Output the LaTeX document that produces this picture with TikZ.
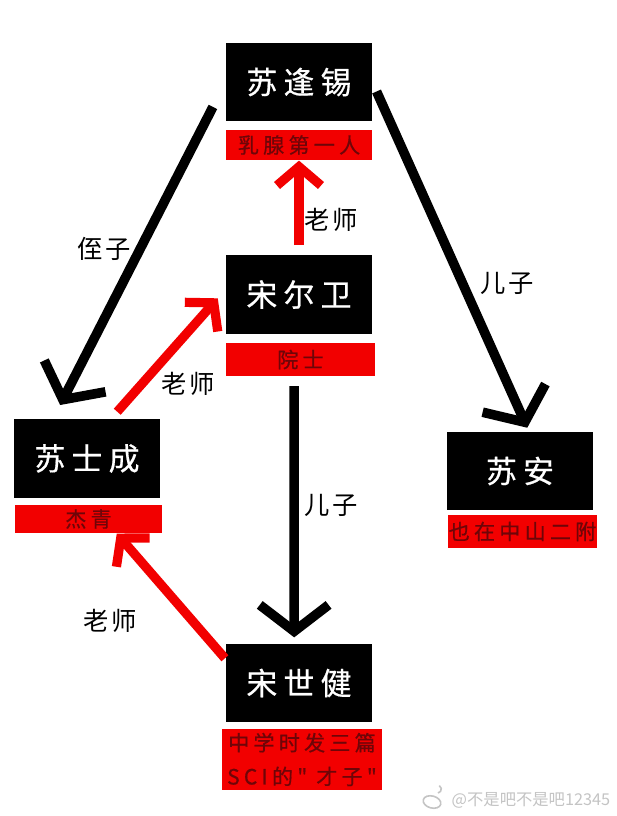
\documentclass[tikz,border=0pt]{standalone}
\usepackage{fontspec}
\usepackage{xcolor}
\newfontfamily\cjk[LetterSpace=20,FakeBold=0.6]{Noto Sans CJK SC}
\newfontfamily\cjklabel[LetterSpace=12]{Noto Sans CJK SC}
\newfontfamily\cjkplain{Noto Sans CJK SC}
\usetikzlibrary{
    arrows.meta
}
\definecolor{boxred}{HTML}{F20000}
\definecolor{textred}{HTML}{6E0508}
\definecolor{markgray}{HTML}{C4C4C4}
\pgfdeclarearrow{
    name=OpenHead,
    setup code={
        \pgfarrowssettipend{0pt}
        \pgfarrowssetlineend{-0.5\pgfarrowlinewidth}
        \pgfarrowssetbackend{-\pgfarrowlength}
        \pgfarrowssavethe\pgfarrowlength
        \pgfarrowssavethe\pgfarrowwidth
        \pgfarrowssavethe\pgfarrowlinewidth
    },
    drawing code={
        \pgfsetbuttcap
        \pgfsetmiterjoin
        \pgfsetlinewidth{\pgfarrowlinewidth}
        \pgfpathmoveto{\pgfpoint{-\pgfarrowlength}{0.5\pgfarrowwidth}}
        \pgfpathlineto{\pgfpoint{0pt}{0pt}}
        \pgfpathlineto{\pgfpoint{-\pgfarrowlength}{-0.5\pgfarrowwidth}}
        \pgfusepathqstroke
    },
    parameters={\the\pgfarrowlength,\the\pgfarrowwidth,\the\pgfarrowlinewidth},
    defaults={length=0.6cm,width=1.6cm,line width=+0pt 1 1}
}

\begin{document}
\begin{tikzpicture}[x=0.025cm,y=-0.025cm,line join=miter]
    \tikzstyle{namebox}=[fill=black, text=white, minimum width=3.65cm, minimum height=1.95cm, inner sep=0pt, font=\cjk\fontsize{22}{24}\selectfont]
    \tikzstyle{titlebox}=[fill=boxred, text=textred, inner sep=0pt, font=\cjk\fontsize{15}{24}\selectfont, align=center]
    \tikzstyle{rel}=[text=black, inner sep=0pt, font=\cjklabel\fontsize{18}{20}\selectfont]
    \tikzstyle{blackline}=[draw=black, line width=0.24cm, -{OpenHead[length=0.66cm, width=1.72cm]}]
    \tikzstyle{redline}=[draw=boxred, line width=0.23cm, -{OpenHead[length=0.47cm, width=1.1cm]}]
    \useasboundingbox (0,0) rectangle (617,816);
    \fill[white] (0,0) rectangle (617,816);
    \node[namebox] (sfx) at (299,82) {\raisebox{-1pt}{苏逢锡}};
    \node[titlebox, minimum width=3.65cm, minimum height=0.75cm] (rx) at (299,145) {乳腺第一人};
    \node[namebox] (sew) at (299,294.5) {\raisebox{-1pt}{宋尔卫}};
    \node[titlebox, minimum width=3.73cm, minimum height=0.82cm] (ys) at (300.5,359.5) {院士};
    \node[namebox] (ssc) at (87,458.5) {\raisebox{-1pt}{苏士成}};
    \node[titlebox, minimum width=3.68cm, minimum height=0.7cm] (jq) at (88.5,519) {杰青};
    \node[namebox] (sa) at (520,471) {\raisebox{-1pt}{苏安}};
    \node[titlebox, minimum width=3.73cm, minimum height=0.82cm] (zs) at (522.5,531.5) {也在中山二附};
    \node[namebox] (ssj) at (299,683) {\raisebox{-1pt}{宋世健}};
    \node[titlebox, minimum width=4cm, minimum height=1.53cm] (sci) at (302,759.5) {中学时发三篇\\SCI的" 才子"};
    \draw[blackline, shorten <=0.7cm, shorten >=0.55cm] (sfx.west) -- (ssc.131);
    \draw[blackline, shorten <=0.26cm, shorten >=0.26cm] (sfx.east) -- (sa.77);
    \draw[blackline, shorten <=0.25cm, shorten >=0.31cm] (ys.-111.5) -- (ssj.97.3);
    \draw[redline, shorten <=0.25cm, shorten >=0.16cm] (sew.north) -- (rx.south);
    \draw[redline, shorten <=0.25cm, shorten >=0.45cm] (ssc.59) -- (sew.176);
    \draw[redline, shorten <=0.03cm, shorten >=0.16cm] (ssj.162.5) -- (jq.-27.8);
    \node[rel] (l1) at (104,249) {侄子};
    \node[rel] (l2) at (331,220) {老师};
    \node[rel] (l3) at (188,384) {老师};
    \node[rel] (l4) at (507,283) {儿子};
    \node[rel] (l5) at (331,505) {儿子};
    \node[rel] (l6) at (110,621) {老师};
    % watermark
    \node[text=markgray, inner sep=0pt, font=\fontsize{11.6}{14}\selectfont\cjkplain] (wm) at (531,800) {@不是吧不是吧12345};
    \draw[markgray, line width=0.04cm, rotate around={-15:(432,802)}] (432,802) ellipse (9 and 6);
    \draw[markgray, line width=0.04cm] (438,793) arc (-80:60:4 and -4);
\end{tikzpicture}
\end{document}
